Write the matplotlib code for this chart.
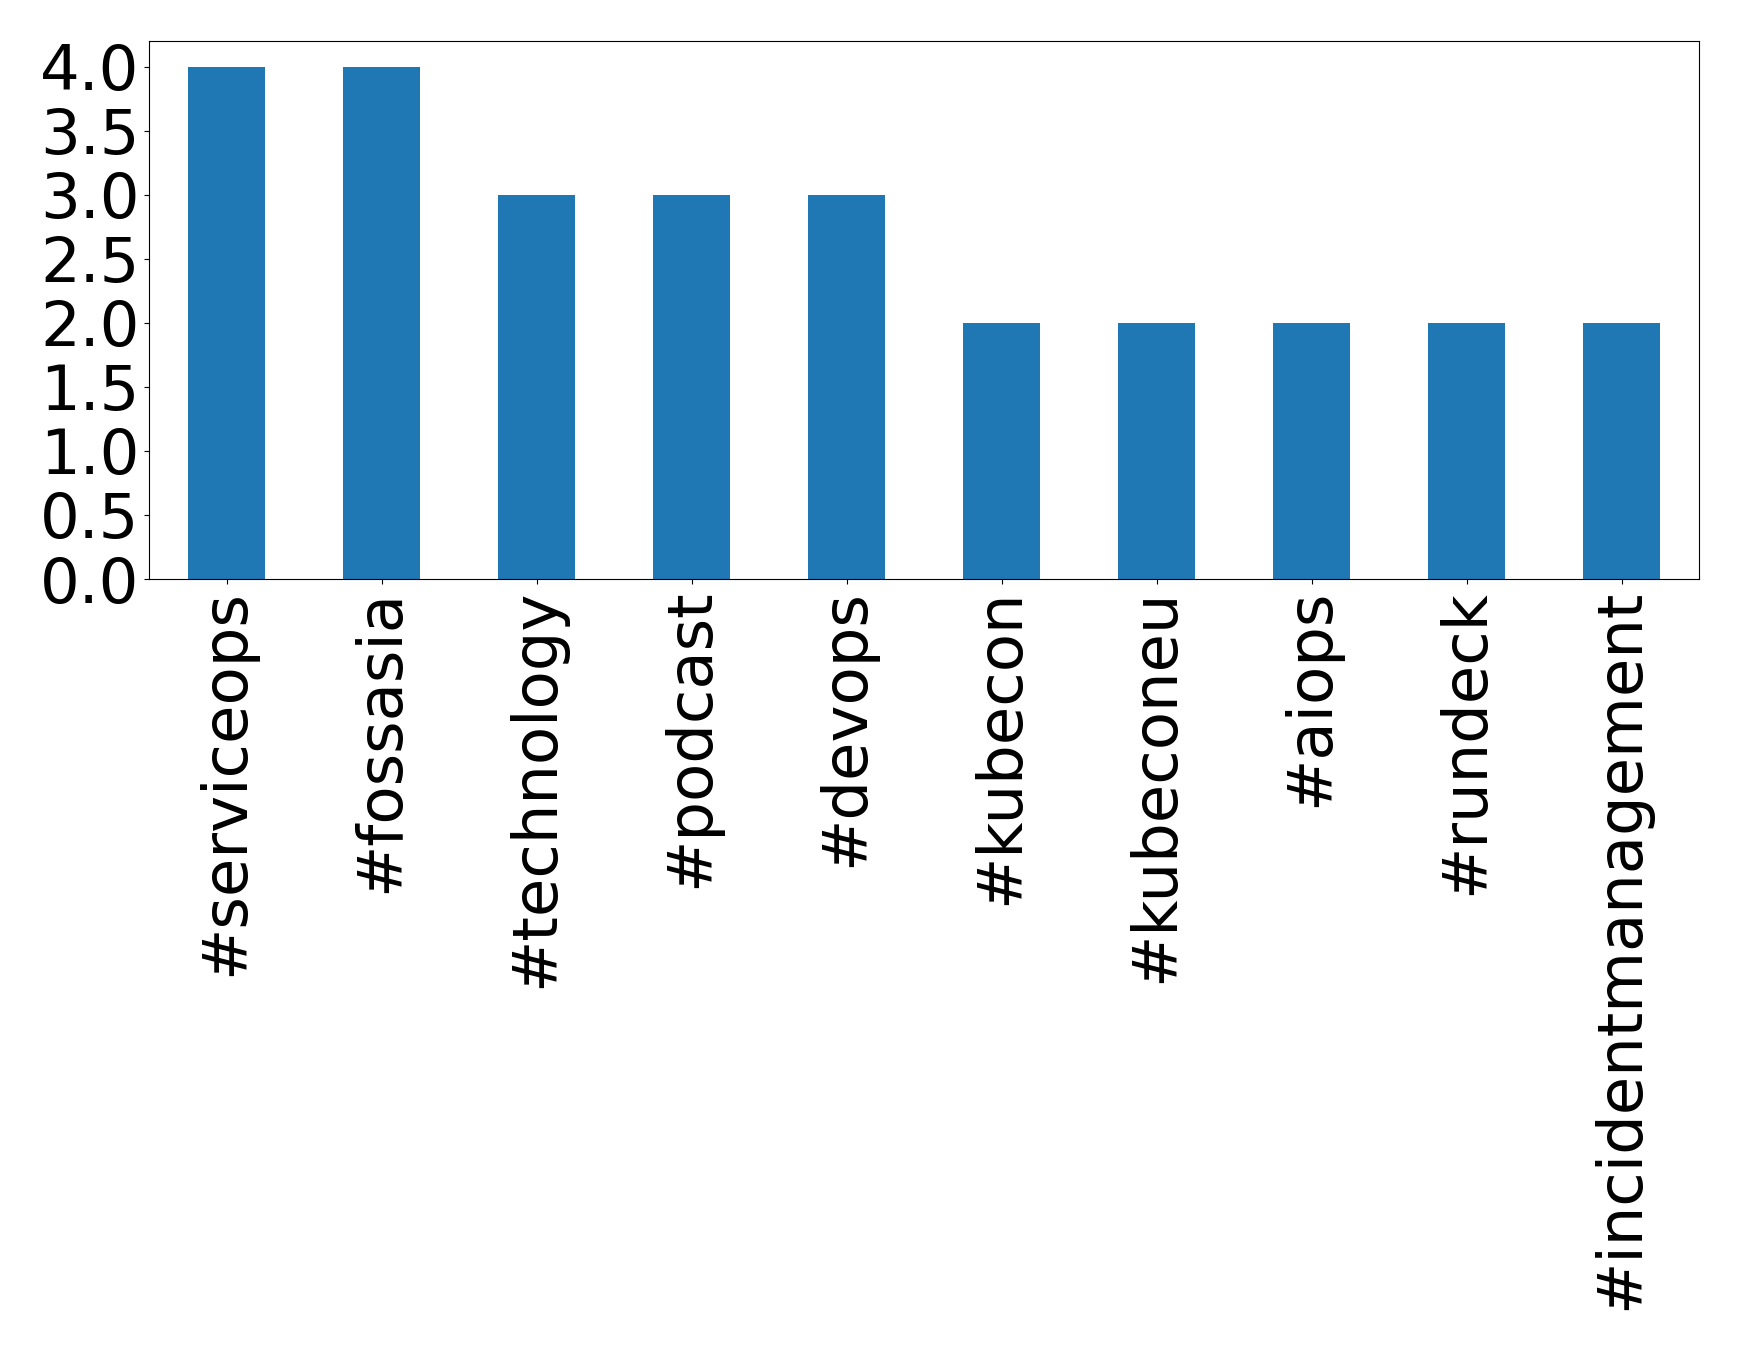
import matplotlib
matplotlib.use("Agg")
import matplotlib.pyplot as plt
import numpy as np

tags = ["#serviceops", "#fossasia", "#technology", "#podcast", "#devops",
        "#kubecon", "#kubeconeu", "#aiops", "#rundeck", "#incidentmanagement"]
counts = [4, 4, 3, 3, 3, 2, 2, 2, 2, 2]

fig = plt.figure(figsize=(17.39, 13.5), dpi=100)
# axes box placed to match the reference
ax = fig.add_axes([149/1739, 1 - 579/1350, (1699-149)/1739, (579-41)/1350])
x = np.arange(len(tags))
ax.bar(x, counts, width=0.5, color="#1f77b4")
ax.set_xlim(-0.5, len(tags) - 0.5)
ax.set_ylim(0, 4.2)
ax.set_yticks(np.arange(0, 4.01, 0.5))
ax.set_xticks(x)
ax.set_xticklabels(tags, rotation=90)
ax.tick_params(labelsize=45)

plt.savefig("out.png", dpi=100)
plt.close()
